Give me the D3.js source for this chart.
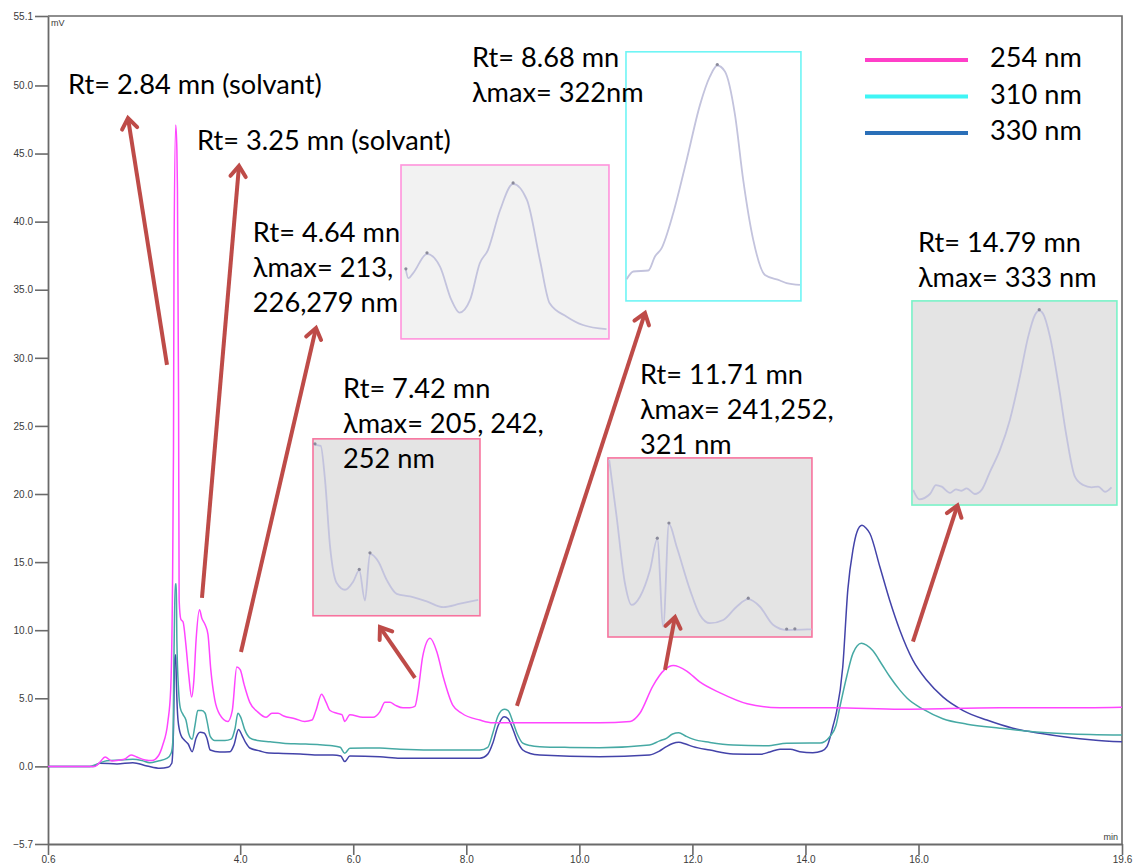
<!DOCTYPE html>
<html><head><meta charset="utf-8">
<script src="https://cdn.jsdelivr.net/npm/d3@7"></script>
<style>body{margin:0;background:#fff}svg{display:block}</style>
</head><body>
<svg id="c" width="1133" height="866"></svg>
<script>
// ---------------- DATA ----------------
const xTicks = [0.6, 4.0, 6.0, 8.0, 10.0, 12.0, 14.0, 16.0, 19.6];
const yTicks = [-5.7, 0, 5, 10, 15, 20, 25, 30, 35, 40, 45, 50, 55.1];
const seriesNames = ["254 nm", "310 nm", "330 nm"];

// chromatograms: [time (min), signal (mV)]
const s254 = [[0.60,0.0],[1.43,0.0],[1.52,0.32],[1.61,0.69],[1.73,0.40],[1.87,0.47],[1.96,0.54],[2.07,0.84],[2.17,0.69],[2.32,0.47],[2.44,0.43],[2.55,0.76],[2.63,1.57],[2.72,3.26],[2.77,5.61],[2.80,12.2],[2.82,23.2],[2.83,37.9],[2.86,47.1],[2.88,45.3],[2.89,42.4],[2.91,26.9],[2.92,12.2],[2.95,10.8],[2.99,10.6],[3.04,8.9],[3.09,6.7],[3.14,5.1],[3.18,6.3],[3.22,9.3],[3.28,11.5],[3.32,10.9],[3.38,10.4],[3.43,9.7],[3.48,7.1],[3.55,4.9],[3.64,3.8],[3.78,3.3],[3.86,4.1],[3.94,7.3],[4.00,7.1],[4.07,6.0],[4.17,4.7],[4.31,4.0],[4.46,3.6],[4.56,3.9],[4.67,3.9],[4.77,3.7],[4.97,3.5],[5.14,3.3],[5.27,3.4],[5.34,4.1],[5.44,5.3],[5.52,4.7],[5.59,4.1],[5.71,3.9],[5.80,3.8],[5.85,3.3],[5.94,3.8],[6.17,3.6],[6.35,3.6],[6.47,4.0],[6.56,4.7],[6.65,4.7],[6.74,4.5],[6.88,4.3],[7.00,4.3],[7.09,4.4],[7.15,5.6],[7.23,8.1],[7.36,9.4],[7.48,8.4],[7.59,6.6],[7.76,4.5],[7.92,3.9],[8.24,3.4],[8.47,3.2],[8.95,3.2],[9.66,3.2],[10.36,3.2],[10.90,3.3],[11.07,3.9],[11.30,5.9],[11.51,7.1],[11.66,7.4],[11.90,7.0],[12.13,6.2],[12.49,5.4],[12.97,4.6],[13.55,4.3],[14.49,4.3],[15.68,4.2],[17.44,4.3],[18.50,4.3],[19.60,4.35]];
const s310 = [[0.6,0.0],[1.34,0.0],[1.47,0.18],[1.64,0.42],[1.87,0.47],[2.10,0.52],[2.26,0.43],[2.40,0.27],[2.55,0.40],[2.71,0.60],[2.78,0.98],[2.81,1.94],[2.83,8.5],[2.85,13.4],[2.87,13.4],[2.88,9.2],[2.91,5.6],[2.94,4.3],[2.99,3.8],[3.04,3.4],[3.09,2.4],[3.15,2.0],[3.20,3.0],[3.25,4.1],[3.32,4.1],[3.38,3.9],[3.41,3.4],[3.47,2.2],[3.55,1.9],[3.73,1.9],[3.84,2.0],[3.91,2.8],[3.96,3.9],[4.01,3.6],[4.08,2.7],[4.17,2.1],[4.31,1.9],[4.53,1.8],[4.76,1.7],[5.06,1.65],[5.36,1.6],[5.59,1.53],[5.77,1.4],[5.85,0.96],[5.94,1.33],[6.21,1.35],[6.47,1.35],[6.83,1.26],[7.36,1.2],[8.24,1.2],[8.38,1.4],[8.47,2.45],[8.56,3.7],[8.67,4.2],[8.74,4.1],[8.83,3.2],[8.91,2.3],[9.00,1.7],[9.13,1.53],[9.30,1.45],[9.83,1.39],[10.36,1.37],[11.24,1.57],[11.42,1.87],[11.54,2.06],[11.65,2.38],[11.76,2.47],[11.88,2.23],[12.01,2.0],[12.31,1.76],[12.72,1.57],[13.32,1.52],[13.67,1.7],[14.08,1.72],[14.26,1.72],[14.43,2.18],[14.54,3.0],[14.61,4.38],[14.73,6.6],[14.84,8.3],[14.99,9.04],[15.08,8.9],[15.19,8.5],[15.35,7.5],[15.49,6.6],[15.67,5.6],[15.80,5.0],[16.08,4.2],[16.43,3.5],[16.86,3.1],[17.44,2.8],[18.02,2.55],[18.63,2.4],[19.60,2.3]];
const s330 = [[0.6,0.0],[1.40,0.0],[1.52,0.23],[1.82,0.18],[2.10,0.27],[2.35,0.03],[2.58,-0.14],[2.72,-0.07],[2.79,0.23],[2.82,2.7],[2.84,7.8],[2.86,8.2],[2.87,6.4],[2.90,3.4],[2.95,2.3],[3.01,1.94],[3.08,1.64],[3.15,1.08],[3.22,2.09],[3.29,2.5],[3.36,2.45],[3.41,2.09],[3.47,1.2],[3.64,1.06],[3.82,1.08],[3.89,1.57],[3.97,2.7],[4.03,2.3],[4.10,1.72],[4.17,1.35],[4.35,1.13],[4.47,1.0],[4.76,0.95],[5.06,0.91],[5.41,0.84],[5.64,0.84],[5.78,0.76],[5.85,0.35],[5.94,0.76],[6.47,0.71],[6.83,0.6],[7.36,0.6],[8.24,0.6],[8.38,0.9],[8.47,1.72],[8.56,2.97],[8.67,3.65],[8.74,3.5],[8.83,2.67],[8.91,1.8],[9.00,1.2],[9.13,0.95],[9.30,0.84],[10.36,0.71],[11.24,0.84],[11.42,1.13],[11.54,1.45],[11.65,1.68],[11.76,1.77],[11.88,1.64],[12.01,1.45],[12.31,1.2],[12.72,0.91],[13.20,0.89],[13.37,1.06],[13.55,1.26],[13.73,1.25],[13.90,1.08],[14.13,1.0],[14.29,1.13],[14.38,1.45],[14.49,3.0],[14.55,4.0],[14.66,7.3],[14.75,13.0],[14.84,15.9],[14.91,17.2],[15.00,17.7],[15.07,17.5],[15.14,17.1],[15.32,14.6],[15.49,12.2],[15.67,10.0],[15.90,7.8],[16.15,6.3],[16.43,5.1],[16.79,4.1],[17.21,3.4],[17.67,2.8],[18.15,2.43],[18.63,2.14],[19.09,1.94],[19.60,1.8]];

// UV spectra of peaks: [wavelength (nm), relative absorbance (%)]
const spec464 = [[213,39.7],[214.5,34.9],[217.5,37.8],[226,48.9],[234,41.6],[241,22.4],[246,15.1],[252.5,22.4],[258.5,43.5],[263.5,51.1],[271,74.1],[279,89.1],[287.5,79.9],[295.5,45.4],[301.5,20.5],[312,12.8],[322,8.0],[336.5,5.6]];
const spec868 = [[238.6,8.7],[244.7,11.8],[258.4,12.2],[264.5,17.8],[270.6,21.2],[281.2,35.2],[293.5,56.6],[305.7,78.7],[314.8,90.1],[321.5,94.5],[328.5,92.1],[337.7,74.7],[345.2,48.6],[354.4,24.5],[365.1,10.4],[378.8,8.2],[384.9,7.1],[397.1,6.4]];
const spec742 = [[204.7,96.6],[209.6,96.0],[213.3,76.8],[217.6,39.2],[223.3,18.5],[230.4,14.7],[237.5,19.4],[242.6,25.6],[247.5,8.6],[251.8,35.0],[258.9,30.7],[266.1,20.3],[274.7,12.4],[286.1,10.9],[300.4,8.1],[314.6,4.9],[328.9,6.8],[344.5,9.0]];
const spec1171 = [[199.1,98.9],[205.6,67.2],[212.9,30.0],[218.8,17.9],[226.1,22.5],[234.9,37.4],[241.3,54.6],[246.5,5.8],[251.5,63.1],[258.3,50.4],[270.0,26.3],[278.7,12.3],[287.5,7.7],[299.2,9.5],[310.9,16.9],[321.1,21.1],[331.4,16.9],[343.1,6.7],[354.8,3.9],[362,4.0],[376.7,4.3]];
const spec1479 = [[221.1,7.4],[226.4,2.8],[235.8,5.4],[241.1,9.8],[246.1,9.0],[253.4,6.0],[258.6,7.7],[263.6,7.0],[268.0,8.2],[275.3,5.4],[281.2,7.4],[288.5,16.3],[297.3,27.0],[306.0,41.7],[314.8,62.9],[322.1,82.5],[328.0,93.1],[331.8,95.2],[335.3,93.6],[341.2,82.5],[348.5,59.7],[355.8,33.5],[363.1,13.9],[370.4,9.8],[377.8,8.7],[383.6,9.0],[389.5,6.5],[395.3,8.7]];
const peaks464 = [213, 226, 279];
const peaks868 = [321.5];
const peaks742 = [204.7, 242.6, 251.8];
const peaks1171 = [241.3, 251.5, 321.1, 354.8, 362];
const peaks1479 = [331.8];

// annotation texts
const labels464 = ["Rt= 4.64 mn", "λmax= 213,", "226,279 nm"];
const labels868 = ["Rt= 8.68 mn", "λmax= 322nm"];
const labels742 = ["Rt= 7.42 mn", "λmax= 205, 242,", "252 nm"];
const labels1171 = ["Rt= 11.71 mn", "λmax= 241,252,", "321 nm"];
const labels1479 = ["Rt= 14.79 mn", "λmax= 333 nm"];
const labels284 = ["Rt= 2.84 mn (solvant)"];
const labels325 = ["Rt= 3.25 mn (solvant)"];

// ---------------- LAYOUT ----------------
const M = {left: 48, right: 1122, top: 16, bottom: 844};
const colors = {"254 nm": "#ff45ff", "310 nm": "#46a9a4", "330 nm": "#4343a9"};
const legendColors = {"254 nm": "#ff3fc8", "310 nm": "#3ff5f5", "330 nm": "#2a6fb8"};
const FONT = "Lato, 'Open Sans', 'DejaVu Sans', sans-serif";
const AX = "#6a6a6a", TICKTXT = "#3a3a3a", ARROW = "#be4b48", SPEC = "#c3c3dd";

const svg = d3.select("#c");
const x = d3.scaleLinear().domain([0.6, 19.6]).range([M.left, M.right]);
const y = d3.scaleLinear().domain([-5.7, 55.1]).range([M.bottom, M.top]);

// frame (top/right)
svg.append("path").attr("d", `M${M.left},${M.top}H${M.right}V${M.bottom}`)
  .attr("fill", "none").attr("stroke", AX).attr("stroke-width", 1.6);

// axes
const fmt = d3.format(".1f");
const gx = svg.append("g").attr("transform", `translate(0,${M.bottom})`)
  .call(d3.axisBottom(x).tickValues(xTicks).tickFormat(fmt).tickSize(11).tickPadding(1).tickSizeOuter(0));
const gy = svg.append("g").attr("transform", `translate(${M.left},0)`)
  .call(d3.axisLeft(y).tickValues(yTicks).tickFormat(fmt).tickSize(13).tickPadding(2).tickSizeOuter(0));
[gx, gy].forEach(g => {
  g.select(".domain").attr("stroke", AX).attr("stroke-width", 1.8);
  g.selectAll(".tick line").attr("stroke", AX).attr("stroke-width", 1.6);
  g.selectAll(".tick text").attr("fill", TICKTXT).attr("font-family", "'Liberation Sans', Arial, sans-serif").attr("font-size", 10);
});
svg.append("text").attr("x", M.left + 3).attr("y", M.top + 10).text("mV")
  .attr("font-family", "'Liberation Sans', Arial, sans-serif").attr("font-size", 9).attr("fill", TICKTXT);
svg.append("text").attr("x", M.right - 4).attr("y", M.bottom - 4).attr("text-anchor", "end").text("min")
  .attr("font-family", "'Liberation Sans', Arial, sans-serif").attr("font-size", 9).attr("fill", TICKTXT);

// chromatogram lines
const line = d3.line().x(d => x(d[0])).y(d => y(d[1])).curve(d3.curveMonotoneX);
const seriesData = {"254 nm": s254, "310 nm": s310, "330 nm": s330};
["330 nm", "310 nm", "254 nm"].forEach(n => {
  svg.append("path").datum(seriesData[n]).attr("d", line)
    .attr("fill", "none").attr("stroke", colors[n]).attr("stroke-width", 1.5);
});

// insets (box in chart units: time / mV)
const insets = [
  {data: spec464, peaks: peaks464, t: [6.845, 10.524], v: [31.39, 44.16], nm: [210, 338], fill: "#f2f2f2", stroke: "#ff94dc"},
  {data: spec868, peaks: peaks868, t: [10.825, 13.920], v: [34.18, 52.47], nm: [238, 398], fill: "#ffffff", stroke: "#6ff5f5"},
  {data: spec742, peaks: peaks742, t: [5.288, 8.242], v: [11.06, 24.05], nm: [203, 346], fill: "#e4e4e4", stroke: "#f7739e"},
  {data: spec1171, peaks: peaks1171, t: [10.506, 14.115], v: [9.50, 22.65], nm: [198, 377], fill: "#e4e4e4", stroke: "#f7739e"},
  {data: spec1479, peaks: peaks1479, t: [15.884, 19.510], v: [19.19, 34.18], nm: [220, 400], fill: "#e4e4e4", stroke: "#7af2c8"}
];
insets.forEach(ins => {
  const x0 = x(ins.t[0]), x1 = x(ins.t[1]), y0 = y(ins.v[1]), y1 = y(ins.v[0]);
  const g = svg.append("g");
  g.append("rect").attr("x", x0).attr("y", y0).attr("width", x1 - x0).attr("height", y1 - y0)
    .attr("fill", ins.fill).attr("stroke", ins.stroke).attr("stroke-width", 1.6);
  const sx = d3.scaleLinear().domain(ins.nm).range([x0, x1]);
  const sy = d3.scaleLinear().domain([0, 100]).range([y1, y0]);
  const sl = d3.line().x(d => sx(d[0])).y(d => sy(d[1])).curve(d3.curveMonotoneX);
  g.append("path").datum(ins.data).attr("d", sl).attr("fill", "none").attr("stroke", SPEC).attr("stroke-width", 1.8);
  ins.peaks.forEach(p => {
    const d = ins.data.reduce((a, b) => Math.abs(b[0] - p) < Math.abs(a[0] - p) ? b : a);
    g.append("circle").attr("cx", sx(d[0])).attr("cy", sy(d[1]) - 1).attr("r", 1.6).attr("fill", "#8a8a9a");
  });
});

// arrows (chart units)
const arrows = [
  {from: [2.705, 29.48], to: [2.015, 47.61]},
  {from: [3.324, 12.37], to: [3.979, 44.09]},
  {from: [4.014, 8.40], to: [5.341, 32.19]},
  {from: [7.092, 6.49], to: [6.473, 10.23]},
  {from: [8.896, 4.44], to: [11.161, 33.29]},
  {from: [11.515, 7.08], to: [11.692, 10.97]},
  {from: [15.902, 9.16], to: [16.689, 19.16]}
];
arrows.forEach(a => {
  const X0 = x(a.from[0]), Y0 = y(a.from[1]), X1 = x(a.to[0]), Y1 = y(a.to[1]);
  const ang = Math.atan2(Y1 - Y0, X1 - X0), L = 13, sp = Math.PI * 0.8;
  svg.append("line").attr("x1", X0).attr("y1", Y0).attr("x2", X1).attr("y2", Y1)
    .attr("stroke", ARROW).attr("stroke-width", 4);
  const p1 = [X1 + L * Math.cos(ang + sp), Y1 + L * Math.sin(ang + sp)];
  const p2 = [X1 + L * Math.cos(ang - sp), Y1 + L * Math.sin(ang - sp)];
  svg.append("path").attr("d", `M${p1}L${X1},${Y1}L${p2}`).attr("fill", "none")
    .attr("stroke", ARROW).attr("stroke-width", 4).attr("stroke-linejoin", "miter").attr("stroke-linecap", "round");
});

// font size fitted to the reference text width
const probe = svg.append("text").attr("font-family", FONT).attr("font-size", 100).text(labels284[0]);
const fs = 100 * 254 / probe.node().getComputedTextLength();
probe.remove();
const LH = 35;

const texts = [
  {lines: labels284, at: [0.954, 49.38]},
  {lines: labels325, at: [3.236, 45.26]},
  {lines: labels464, at: [4.224, 38.53]},
  {lines: labels868, at: [8.100, 51.36]},
  {lines: labels742, at: [5.820, 27.05]},
  {lines: labels1171, at: [11.072, 28.07]},
  {lines: labels1479, at: [15.990, 37.78]}
];
texts.forEach(tx => {
  const t = svg.append("text").attr("font-family", FONT).attr("font-size", fs).attr("fill", "#000")
    .attr("x", x(tx.at[0])).attr("y", y(tx.at[1]));
  tx.lines.forEach((s, i) => t.append("tspan").attr("x", x(tx.at[0])).attr("dy", i ? LH : 0).text(s));
});

// legend
const lg = svg.append("g").attr("transform", "translate(865,60)");
seriesNames.forEach((n, i) => {
  lg.append("line").attr("x1", 0).attr("x2", 103).attr("y1", i * 36.5).attr("y2", i * 36.5)
    .attr("stroke", legendColors[n]).attr("stroke-width", 4);
  lg.append("text").attr("x", 125).attr("y", i * 36.5 + 7).attr("font-family", FONT).attr("font-size", fs).text(n);
});
</script>
</body></html>
